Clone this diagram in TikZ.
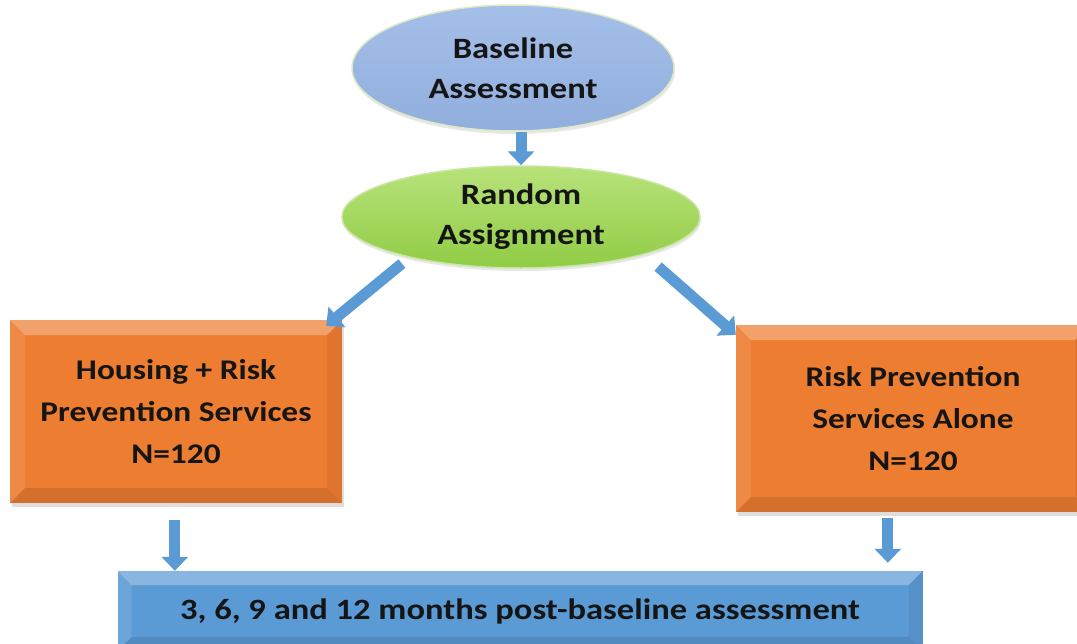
\documentclass[tikz,border=0pt]{standalone}
\usepackage{fontspec}
\setmainfont{Carlito}[FakeStretch=1.17]
\usetikzlibrary{shapes.geometric,arrows.meta,shadows,calc}
\definecolor{arrowblue}{HTML}{5B9BD5}
\definecolor{ellblueT}{HTML}{A4BFE8}
\definecolor{ellblueB}{HTML}{91AEDD}
\definecolor{ellgreenT}{HTML}{B8E27A}
\definecolor{ellgreenB}{HTML}{90CC45}
\definecolor{ellrimG}{HTML}{DCE9C4}
\definecolor{ellrimL}{HTML}{C9E6A0}
\definecolor{boxorange}{HTML}{ED7D31}
\definecolor{boxblue}{HTML}{5B9BD5}
\definecolor{txt}{HTML}{151515}
\tikzset{
  ellnode/.style={ellipse, inner sep=0pt, text=txt, align=center,
    font=\bfseries\fontsize{29.5}{40}\selectfont,
    drop shadow={shadow xshift=1pt, shadow yshift=-3pt, opacity=.18}},
  bevel/.style={path picture={
    \fill[white, opacity=.28] (path picture bounding box.north west) -- (path picture bounding box.north east)
      -- ([xshift=-#1,yshift=-#1]path picture bounding box.north east) -- ([xshift=#1,yshift=-#1]path picture bounding box.north west) -- cycle;
    \fill[white, opacity=.10] (path picture bounding box.north west) -- ([xshift=#1,yshift=-#1]path picture bounding box.north west)
      -- ([xshift=#1,yshift=#1]path picture bounding box.south west) -- (path picture bounding box.south west) -- cycle;
    \fill[black, opacity=.06] (path picture bounding box.north east) -- ([xshift=-#1,yshift=-#1]path picture bounding box.north east)
      -- ([xshift=-#1,yshift=#1]path picture bounding box.south east) -- (path picture bounding box.south east) -- cycle;
    \fill[black, opacity=.10] (path picture bounding box.south west) -- ([xshift=#1,yshift=#1]path picture bounding box.south west)
      -- ([xshift=-#1,yshift=#1]path picture bounding box.south east) -- (path picture bounding box.south east) -- cycle;
  }},
  groupbox/.style={rectangle, inner sep=0pt, fill=boxorange, bevel=15pt, text=txt, align=center,
    font=\bfseries\fontsize{28.5}{42}\selectfont,
    drop shadow={shadow xshift=2pt, shadow yshift=-4pt, opacity=.25}},
  bottombox/.style={rectangle, inner sep=0pt, fill=boxblue, bevel=14pt, text=txt, align=center,
    font=\bfseries\fontsize{29.5}{34}\selectfont},
  barrow/.style={draw=arrowblue, line width=11pt, -{Triangle[width=26pt,length=14pt]}}
}
\begin{document}
\begin{tikzpicture}[x=1pt,y=-1pt]
\useasboundingbox (0,0) rectangle (1077,643);
\fill[white] (0,0) rectangle (1077,643);

\node[ellnode, minimum width=322pt, minimum height=126pt, top color=ellblueT, bottom color=ellblueB,
  draw=ellrimG, line width=1.5pt] (base) at (513,68) {Baseline\\Assessment};
\node[ellnode, minimum width=358pt, minimum height=102pt, top color=ellgreenT, bottom color=ellgreenB,
  draw=ellrimL, line width=1.5pt] (rand) at (521,217) {Random\\Assignment};

\node[groupbox, minimum width=332pt, minimum height=183pt] (left) at (176,411.5)
  {Housing + Risk\\Prevention Services\\N=120};
\node[groupbox, minimum width=354pt, minimum height=187pt] (right) at (913,418.5)
  {Risk Prevention\\Services Alone\\N=120};

\node[bottombox, minimum width=805pt, minimum height=80pt] (bot) at (520,611)
  {3, 6, 9 and 12 months post-baseline assessment};

\draw[barrow] (rand.north |- base.south) -- (rand.north);
\draw[barrow] ($(rand.south west)+(8,10)$) -- ($(left.north east)+(-16,6)$);
\draw[barrow] ($(rand.south east)+(10,13)$) -- ($(right.north west)+(0,10)$);
\coordinate (la) at ($(left.south west)+(165,17)$);
\coordinate (ra) at ($(right.south west)+(152,6)$);
\draw[barrow] (la) -- (la |- bot.north);
\draw[barrow] (ra) -- ($(ra |- bot.north)+(0,-8)$);
\end{tikzpicture}
\end{document}
